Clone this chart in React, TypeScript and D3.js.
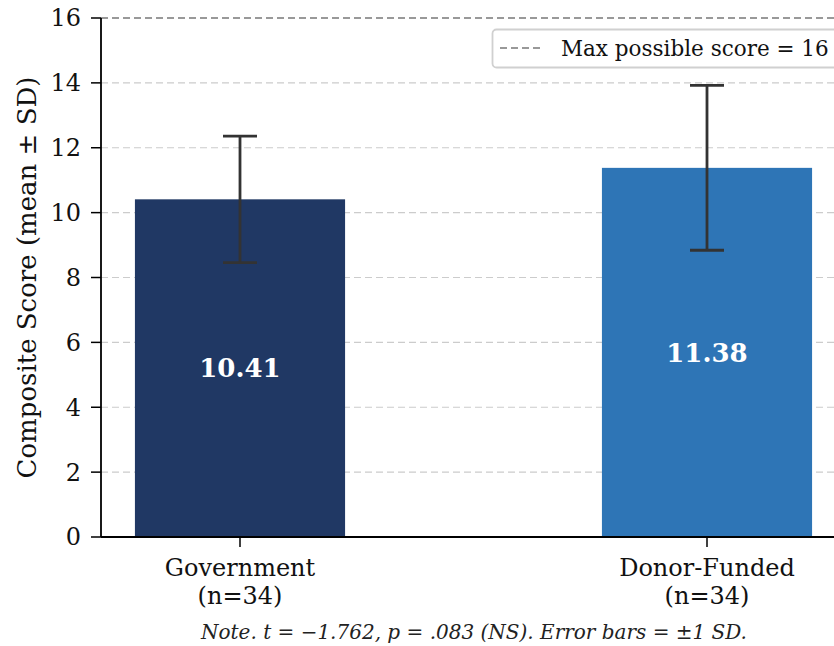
import React from 'react';
import * as d3 from 'd3';

const groups = ['Government', 'Donor-Funded'];
const nLabels = ['(n=34)', '(n=34)'];
const means = [10.41, 11.38];
const sds = [1.95, 2.54];
const yTicks = [0, 2, 4, 6, 8, 10, 12, 14, 16];
const colors = ['#203864', '#2e75b6'];
const maxScore = 16;

const W = 834;
const H = 646;
const font = 'DejaVu Serif, serif';

export default function App() {
  const left = 101;
  const y = d3.scaleLinear().domain([0, 16]).range([537, 18]);
  const x = d3.scaleBand().domain(groups).range([6.5, 940.5]).paddingInner(0.55).paddingOuter(0.275);
  const bw = x.bandwidth();

  return (
    <svg width={W} height={H} style={{ position: 'absolute', left: 0, top: 0 }} fontFamily={font}>
      <rect width={W} height={H} fill="#fff" />
      {/* grid */}
      {yTicks.filter((t) => t > 0 && t < 16).map((t) => (
        <line key={t} x1={left} x2={W} y1={y(t)} y2={y(t)} stroke="#cccccc" strokeDasharray="7,4" strokeWidth={1.2} />
      ))}
      {/* bars */}
      {groups.map((g, i) => (
        <g key={g}>
          <rect x={x(g)} y={y(means[i])} width={bw} height={y(0) - y(means[i])} fill={colors[i]} />
          <text x={x(g)! + bw / 2} y={y(means[i] / 2)} dy="0.35em" textAnchor="middle" fill="#fff" fontWeight="bold" fontSize={26}>
            {means[i].toFixed(2)}
          </text>
        </g>
      ))}
      {/* error bars */}
      {groups.map((g, i) => {
        const cx = x(g)! + bw / 2;
        return (
          <g key={g} stroke="#333" strokeWidth={2.8}>
            <line x1={cx} x2={cx} y1={y(means[i] + sds[i])} y2={y(means[i] - sds[i])} />
            <line x1={cx - 17} x2={cx + 17} y1={y(means[i] + sds[i])} y2={y(means[i] + sds[i])} />
            <line x1={cx - 17} x2={cx + 17} y1={y(means[i] - sds[i])} y2={y(means[i] - sds[i])} />
          </g>
        );
      })}
      {/* max line */}
      <line x1={left} x2={W} y1={y(maxScore)} y2={y(maxScore)} stroke="#999" strokeDasharray="7,4" strokeWidth={1.8} />
      {/* axes */}
      <line x1={left} x2={left} y1={y(16)} y2={y(0)} stroke="#000" strokeWidth={1.8} />
      <line x1={left} x2={W} y1={y(0)} y2={y(0)} stroke="#000" strokeWidth={1.8} />
      {yTicks.map((t) => (
        <g key={t}>
          <line x1={left - 10} x2={left} y1={y(t)} y2={y(t)} stroke="#000" strokeWidth={1.5} />
          <text x={left - 20} y={y(t)} dy="0.35em" textAnchor="end" fontSize={24} fill="#111">{t}</text>
        </g>
      ))}
      {groups.map((g, i) => {
        const cx = x(g)! + bw / 2;
        return (
          <g key={g}>
            <line x1={cx} x2={cx} y1={y(0)} y2={y(0) + 10} stroke="#000" strokeWidth={1.5} />
            <text x={cx} y={576} textAnchor="middle" fontSize={24} fill="#111">{g}</text>
            <text x={cx} y={604} textAnchor="middle" fontSize={24} fill="#111">{nLabels[i]}</text>
          </g>
        );
      })}
      <text transform={`translate(36,${y(8)}) rotate(-90)`} textAnchor="middle" fontSize={26} fill="#111">
        Composite Score (mean ± SD)
      </text>
      {/* legend */}
      <rect x={492.5} y={29.5} width={360} height={38} rx={4} fill="#fff" fillOpacity={0.85} stroke="#d0d0d0" strokeWidth={1.8} />
      <line x1={500} x2={543} y1={48} y2={48} stroke="#999" strokeDasharray="7,4" strokeWidth={1.8} />
      <text x={561} y={48} dy="0.35em" fontSize={21.5} fill="#111">Max possible score = 16</text>
      {/* note */}
      <text x={474} y={639} textAnchor="middle" fontStyle="italic" fontSize={20} fill="#222">
        Note. t = −1.762, p = .083 (NS). Error bars = ±1 SD.
      </text>
    </svg>
  );
}
